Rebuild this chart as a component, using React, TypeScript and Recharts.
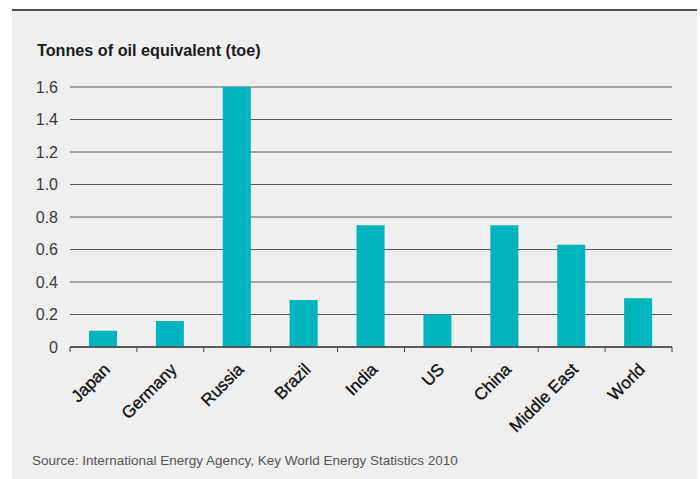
import React from 'react';
import { BarChart, Bar, XAxis, YAxis, CartesianGrid } from 'recharts';

if (typeof document !== 'undefined') {
  document.body.style.margin = '0';
}

const regions = ['Japan', 'Germany', 'Russia', 'Brazil', 'India', 'US', 'China', 'Middle East', 'World'];
const toeValues = [0.10, 0.16, 1.60, 0.29, 0.75, 0.20, 0.75, 0.63, 0.30];
const yTicks = [0, 0.2, 0.4, 0.6, 0.8, 1.0, 1.2, 1.4, 1.6];
const titleText = 'Tonnes of oil equivalent (toe)';
const sourceText = 'Source: International Energy Agency, Key World Energy Statistics 2010';

const data = regions.map((region, i) => ({ region, toe: toeValues[i] }));

const FONT = '"Liberation Sans", Arial, Helvetica, sans-serif';
const BAR = '#00b4bd';
const W = 700;
const H = 479;
const PLOT_LEFT = 70;
const PLOT_RIGHT = 28;

const YTick = (props: any) => {
  const { x, y, payload } = props;
  const v = payload.value as number;
  return (
    <text x={x} y={y} dy="0.36em" textAnchor="end" fill="#3a3a3a" fontSize={16} fontFamily={FONT}>
      {v === 0 ? '0' : v.toFixed(1)}
    </text>
  );
};

const XTick = (props: any) => {
  const { x, y, payload, index, visibleTicksCount } = props;
  const half =
    typeof payload.offset === 'number' && payload.offset > 0
      ? payload.offset
      : (W - PLOT_LEFT - PLOT_RIGHT) / regions.length / 2;
  const isLast = index === (visibleTicksCount ?? regions.length) - 1;
  const lx = x + 7.5;
  const ly = y + 23.5;
  return (
    <g>
      <line x1={x - half} x2={x - half} y1={y} y2={y + 5} stroke="#444" strokeWidth={1} />
      {isLast && <line x1={x + half} x2={x + half} y1={y} y2={y + 5} stroke="#444" strokeWidth={1} />}
      <text
        x={lx}
        y={ly}
        textAnchor="end"
        fill="#111"
        stroke="#111"
        strokeWidth={0.35}
        fontSize={17}
        fontFamily={FONT}
        transform={`rotate(-45, ${lx}, ${ly})`}
      >
        {payload.value}
      </text>
    </g>
  );
};

export default function App() {
  return (
    <div style={{ position: 'relative', width: W, height: H, background: '#fff', fontFamily: FONT, overflow: 'hidden' }}>
      <div style={{ position: 'absolute', left: 12, top: 11, width: 685, height: 468, background: '#efefef' }} />
      <div style={{ position: 'absolute', left: 12, top: 9, width: 685, height: 2, background: '#4d4d4d' }} />
      <div
        style={{
          position: 'absolute',
          left: 37,
          top: 42,
          fontSize: 16.2,
          lineHeight: '17px',
          fontWeight: 'bold',
          color: '#1a1a1a',
          whiteSpace: 'nowrap',
        }}
      >
        {titleText}
      </div>
      <div
        style={{
          position: 'absolute',
          left: 32,
          top: 454,
          fontSize: 13.5,
          lineHeight: '14px',
          color: '#555',
          whiteSpace: 'nowrap',
        }}
      >
        {sourceText}
      </div>
      <div style={{ position: 'absolute', left: 0, top: 0 }}>
        <BarChart
          width={W}
          height={H}
          data={data}
          margin={{ top: 87, right: PLOT_RIGHT, bottom: 72, left: 0 }}
          barSize={28}
        >
          <CartesianGrid horizontal vertical={false} stroke="#5a5a5a" strokeWidth={1} />
          <XAxis
            dataKey="region"
            height={60}
            interval={0}
            axisLine={{ stroke: '#444', strokeWidth: 1.5 }}
            tickLine={false}
            tickSize={0}
            tickMargin={0}
            tick={<XTick />}
          />
          <YAxis
            width={PLOT_LEFT}
            domain={[0, 1.6]}
            ticks={yTicks}
            interval={0}
            axisLine={false}
            tickLine={false}
            tickSize={0}
            tickMargin={12}
            tick={<YTick />}
          />
          <Bar dataKey="toe" fill={BAR} isAnimationActive={false} />
        </BarChart>
      </div>
    </div>
  );
}
